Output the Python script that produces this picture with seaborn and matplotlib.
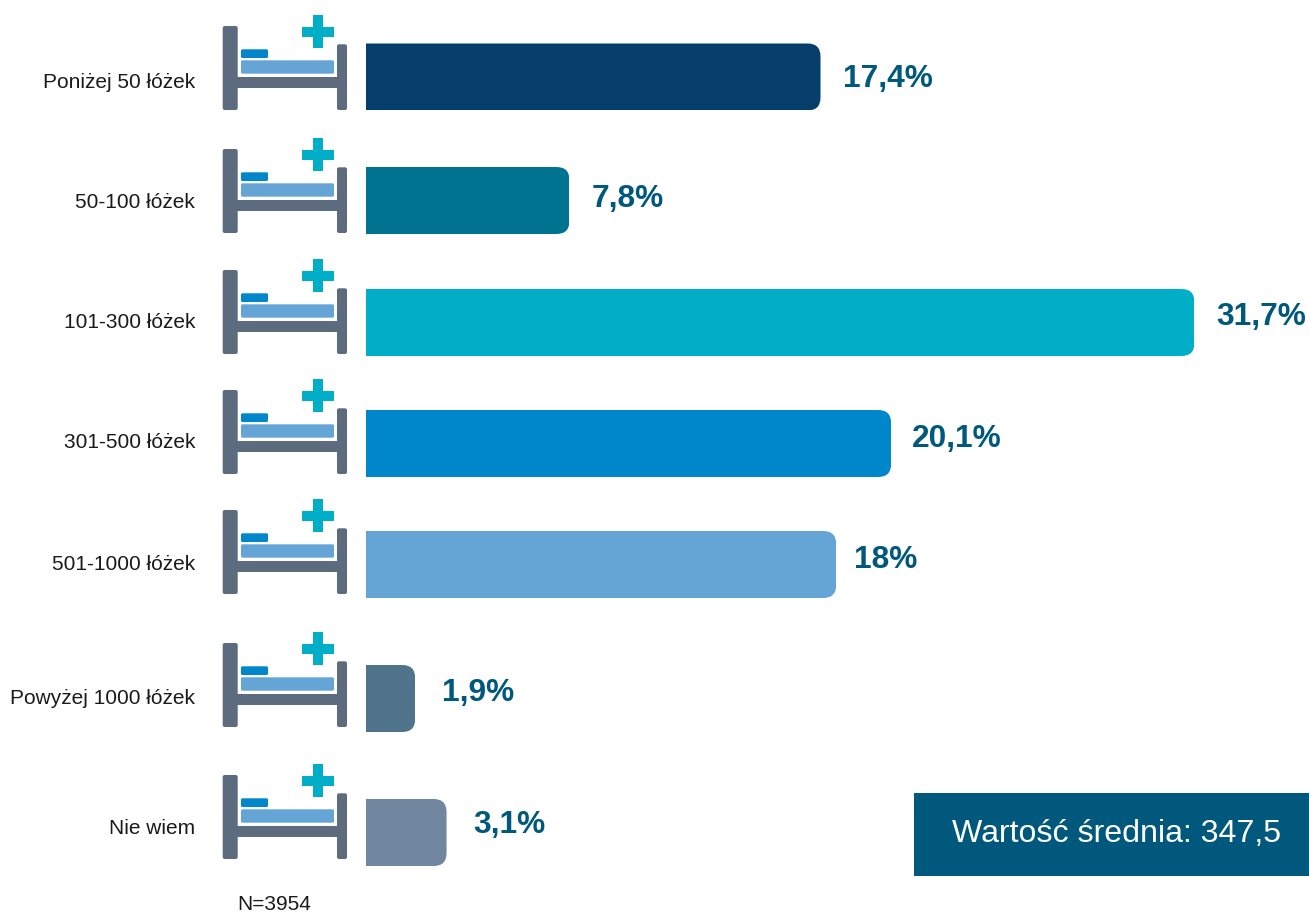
import matplotlib
matplotlib.use("Agg")
import matplotlib.pyplot as plt
import seaborn as sns
import pandas as pd
from matplotlib.path import Path
from matplotlib.patches import Rectangle, FancyBboxPatch

# ---- data ----
categories = ["Poniżej 50 łóżek", "50-100 łóżek", "101-300 łóżek", "301-500 łóżek",
              "501-1000 łóżek", "Powyżej 1000 łóżek", "Nie wiem"]
values = [17.4, 7.8, 31.7, 20.1, 18.0, 1.9, 3.1]
value_labels = ["17,4%", "7,8%", "31,7%", "20,1%", "18%", "1,9%", "3,1%"]
bar_colors = ["#063E6C", "#007391", "#00AEC7", "#0086CA", "#65A5D6", "#51748D", "#7187A0"]
sample_note = "N=3954"
mean_note = "Wartość średnia: 347,5"

# ---- layout (pixels of the 1309x913 canvas) ----
W, H = 1309, 913
DPI = 100
X0 = 365.5
PX_PER_UNIT = 26.15
row_centres = [77, 200.5, 322.5, 443.5, 564.5, 698.5, 832.5]
label_rows = [80, 200, 321, 441, 562, 696, 827]
value_rows = [78.5, 199.5, 317.5, 438.5, 560.5, 693.5, 825.5]
value_gaps = [22, 22, 22, 21, 18, 27, 26.5]
icon_bottoms = [110, 233, 354, 474, 594, 727, 859]
BAR_H = 67
RADIUS = 13

sns.set_theme(style="white")
plt.rcParams["font.family"] = ["Liberation Sans", "DejaVu Sans"]

fig = plt.figure(figsize=(W / DPI, H / DPI), dpi=DPI, facecolor="white")
ax = fig.add_axes([X0 / W, 0, 1 - X0 / W, 1])
df = pd.DataFrame({"cat": categories, "val": values, "pos": row_centres})
sns.barplot(data=df, x="val", y="pos", hue="cat", hue_order=categories, palette=bar_colors,
            orient="y", native_scale=True, dodge=False, width=BAR_H / 121, legend=False,
            saturation=1, linewidth=0, ax=ax)
ax.set_xlim(0, (W - X0) / PX_PER_UNIT)
ax.set_ylim(H, 0)
ax.set_xlabel("")
ax.set_ylabel("")
ax.set_xticks([])
ax.set_yticks(label_rows)
ax.set_yticklabels(categories, fontsize=15, color="#1a1a1a")
ax.tick_params(axis="y", length=0, pad=(X0 - 195) * 72 / DPI)
sns.despine(ax=ax, left=True, bottom=True)

# rounded right-hand corners on each bar
rx = RADIUS / PX_PER_UNIT
for bar in ax.patches:
    x1 = bar.get_x() + bar.get_width()
    y0 = bar.get_y()
    y1 = y0 + bar.get_height()
    lo, hi = min(y0, y1), max(y0, y1)
    verts = [(0, lo), (x1 - rx, lo), (x1, lo), (x1, lo + RADIUS), (x1, hi - RADIUS),
             (x1, hi), (x1 - rx, hi), (0, hi), (0, lo)]
    codes = [Path.MOVETO, Path.LINETO, Path.CURVE3, Path.CURVE3, Path.LINETO,
             Path.CURVE3, Path.CURVE3, Path.LINETO, Path.CLOSEPOLY]
    bar.set_clip_path(Path(verts, codes), ax.transData)

# value labels
for v, lab, yr, gap in zip(values, value_labels, value_rows, value_gaps):
    ax.annotate(lab, xy=(v, yr), xytext=(gap * 72 / DPI, 0), textcoords="offset points",
                va="center", ha="left", fontsize=22.8, fontweight="bold", color="#00587C",
                annotation_clip=False)

# overlay in canvas pixels for the icons, note and box
ov = fig.add_axes([0, 0, 1, 1], facecolor="none")
ov.set_xlim(0, W)
ov.set_ylim(H, 0)
ov.axis("off")


def rrect(x0, y0, x1, y1, color, r=1.5):
    ov.add_patch(FancyBboxPatch((x0 + r, y0 + r), x1 - x0 - 2 * r, y1 - y0 - 2 * r,
                                boxstyle=f"round,pad={r},rounding_size={r}",
                                fc=color, ec="none"))


POST = "#5C6B7D"
for b in icon_bottoms:
    rrect(222.7, b - 84, 237.7, b, POST, 2)
    rrect(337, b - 65.7, 347, b, POST, 2)
    ov.add_patch(Rectangle((237, b - 32.7), 100.5, 11, fc=POST, ec="none"))
    rrect(241, b - 49.7, 334, b - 36.3, "#65A5D6")
    rrect(241, b - 60.7, 268, b - 52, "#0086CA")
    ov.add_patch(Rectangle((313, b - 95), 9.7, 33.3, fc="#00AEC7", ec="none"))
    ov.add_patch(Rectangle((302.3, b - 83.3), 31.4, 10, fc="#00AEC7", ec="none"))

ov.text(274, 904.5, sample_note, ha="center", va="center", fontsize=15, color="#1a1a1a")
ov.add_patch(Rectangle((914, 793), W - 914, 83, fc="#00587C", ec="none"))
ov.text(1117, 834.5, mean_note, ha="center", va="center", fontsize=23.1, color="white")

fig.savefig("out.png", dpi=DPI)
